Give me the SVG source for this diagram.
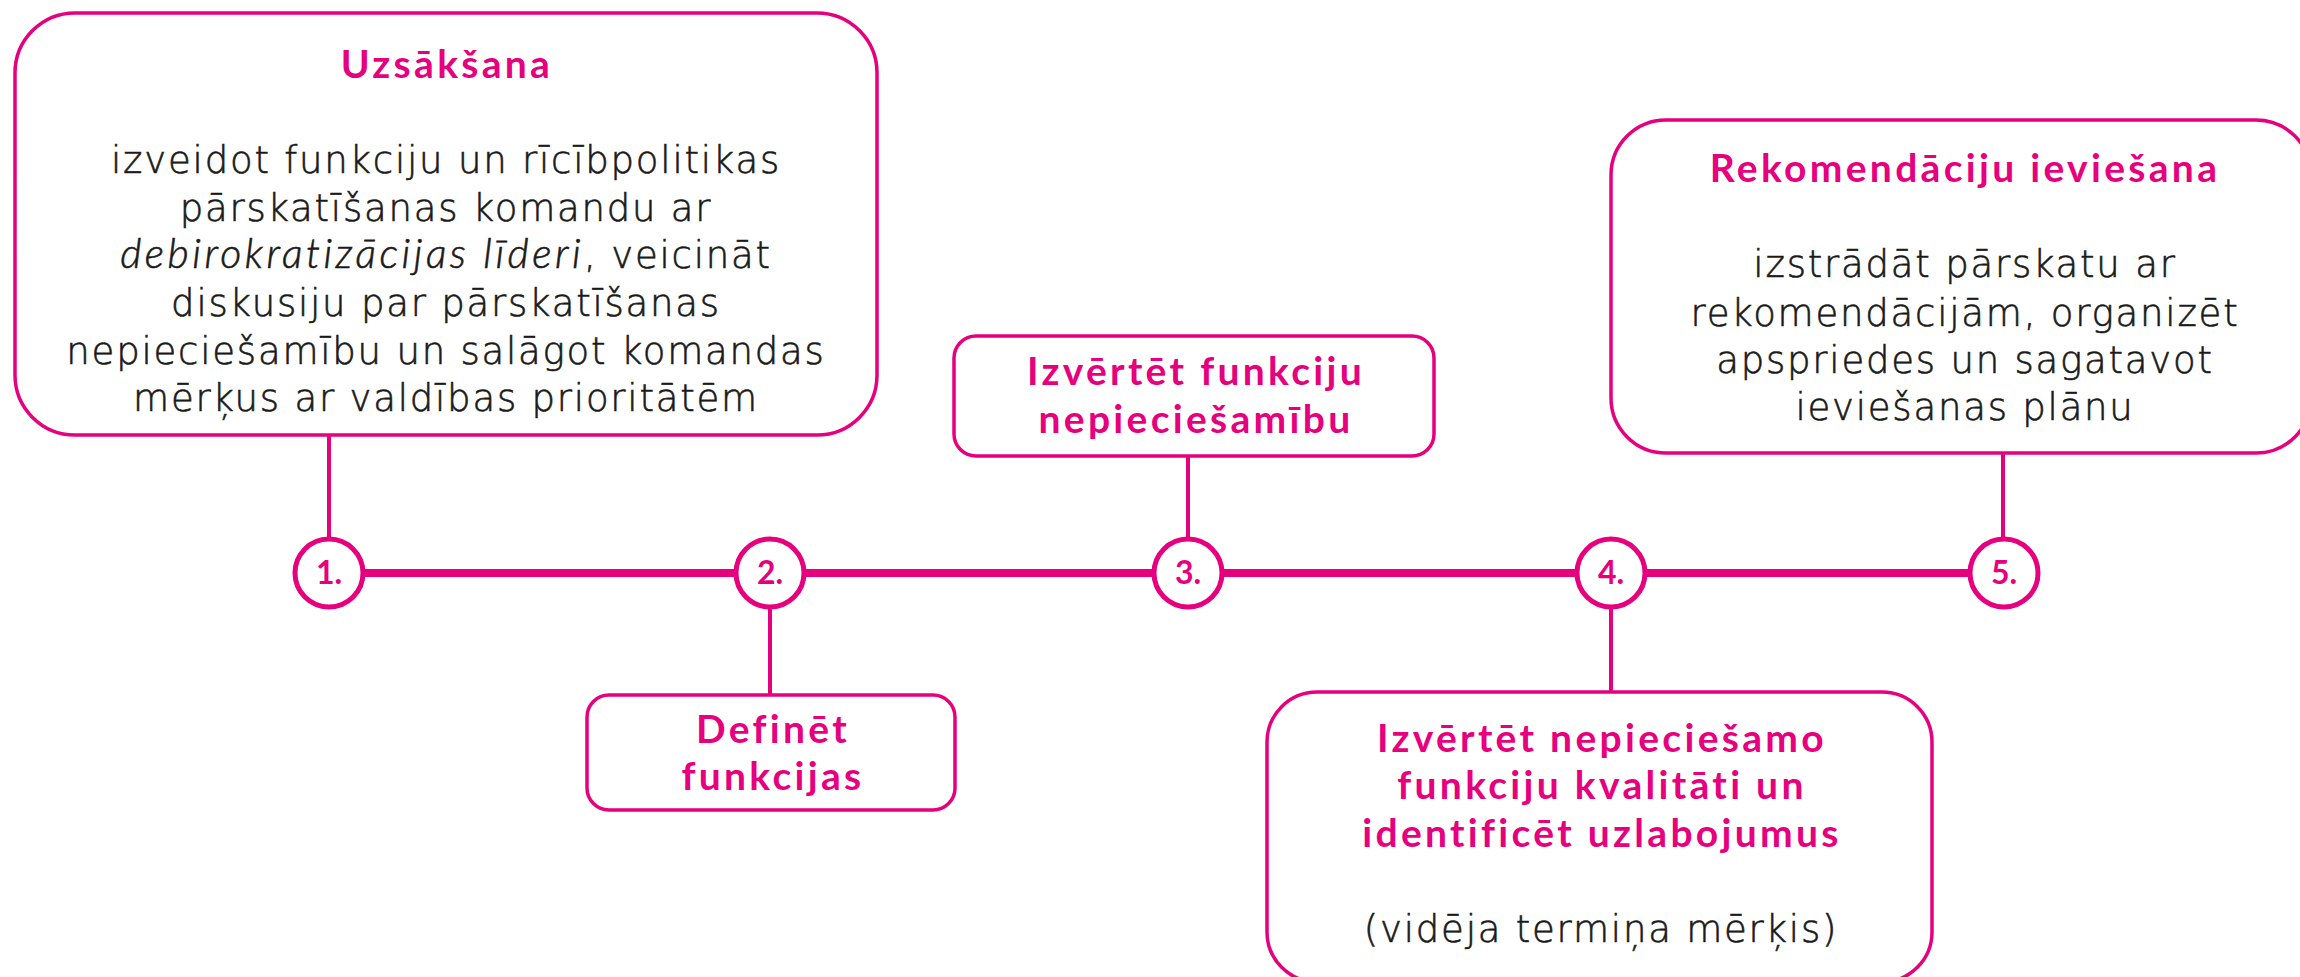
<svg xmlns="http://www.w3.org/2000/svg" width="2300" height="977" viewBox="0 0 2300 977">
<style>
.box{fill:#fff;stroke:#E6007E;stroke-width:3.5}
.t{font-family:Lato,"Open Sans","Liberation Sans",sans-serif;font-weight:700;font-size:39px;letter-spacing:3.3px;fill:#E6007E;text-anchor:middle}
.b{font-family:"DejaVu Sans",Lato,"Liberation Sans",sans-serif;font-weight:200;font-size:37px;letter-spacing:1.8px;fill:#1a1a1a;stroke:#1a1a1a;stroke-width:0.6px;text-anchor:middle}
.it{font-family:Lato,"Open Sans","Liberation Sans",sans-serif;font-weight:300;font-style:italic;font-size:41px;letter-spacing:3.5px}
.num{font-family:Lato,"Open Sans","Liberation Sans",sans-serif;font-weight:700;font-size:32px;fill:#E6007E;text-anchor:middle}
.circ{fill:#fff;stroke:#E6007E;stroke-width:5}
.v{stroke:#E6007E;stroke-width:4;fill:none}
</style>
<rect width="2300" height="977" fill="#fff"/>
<g id="connectors">
<line x1="329" y1="573" x2="2005" y2="573" stroke="#E6007E" stroke-width="8"/>
<line class="v" x1="329" y1="435" x2="329" y2="540"/>
<line class="v" x1="770" y1="605" x2="770" y2="695"/>
<line class="v" x1="1188" y1="456" x2="1188" y2="540"/>
<line class="v" x1="1611" y1="605" x2="1611" y2="692"/>
<line class="v" x1="2003" y1="453" x2="2003" y2="540"/>
</g>
<g id="step1">
<circle class="circ" cx="329" cy="573" r="34"/>
<text class="num" x="329" y="584">1.</text>
</g>
<g id="step2">
<circle class="circ" cx="770" cy="573" r="34"/>
<text class="num" x="770" y="584">2.</text>
</g>
<g id="step3">
<circle class="circ" cx="1188" cy="573" r="34"/>
<text class="num" x="1188" y="584">3.</text>
</g>
<g id="step4">
<circle class="circ" cx="1611" cy="573" r="34"/>
<text class="num" x="1611" y="584">4.</text>
</g>
<g id="step5">
<circle class="circ" cx="2004" cy="573" r="34"/>
<text class="num" x="2004" y="584">5.</text>
</g>
<g id="box1">
<rect class="box" x="15" y="13" width="862" height="422" rx="60"/>
<text class="t" x="447" y="78">Uzsākšana</text>
<text class="b" x="446" y="173">izveidot funkciju un rīcībpolitikas</text>
<text class="b" x="446" y="221">pārskatīšanas komandu ar</text>
<text class="b" x="446" y="268"><tspan class="it">debirokratizācijas līderi</tspan>, veicināt</text>
<text class="b" x="446" y="316">diskusiju par pārskatīšanas</text>
<text class="b" x="446" y="364">nepieciešamību un salāgot komandas</text>
<text class="b" x="446" y="411">mērķus ar valdības prioritātēm</text>
</g>
<g id="box2">
<rect class="box" x="587" y="695" width="368" height="115" rx="22"/>
<text class="t" x="773" y="743">Definēt</text>
<text class="t" x="773" y="790">funkcijas</text>
</g>
<g id="box3">
<rect class="box" x="954" y="336" width="480" height="120" rx="22"/>
<text class="t" x="1196" y="385">Izvērtēt funkciju</text>
<text class="t" x="1196" y="433">nepieciešamību</text>
</g>
<g id="box4">
<rect class="box" x="1267" y="692" width="665" height="290" rx="50"/>
<text class="t" x="1602" y="752">Izvērtēt nepieciešamo</text>
<text class="t" x="1602" y="799">funkciju kvalitāti un</text>
<text class="t" x="1602" y="847">identificēt uzlabojumus</text>
<text class="b" x="1601" y="942">(vidēja termiņa mērķis)</text>
</g>
<g id="box5">
<rect class="box" x="1611" y="120" width="700" height="333" rx="55"/>
<text class="t" x="1965" y="182">Rekomendāciju ieviešana</text>
<text class="b" x="1965" y="277">izstrādāt pārskatu ar</text>
<text class="b" x="1965" y="326">rekomendācijām, organizēt</text>
<text class="b" x="1965" y="373">apspriedes un sagatavot</text>
<text class="b" x="1965" y="420">ieviešanas plānu</text>
</g>
</svg>
